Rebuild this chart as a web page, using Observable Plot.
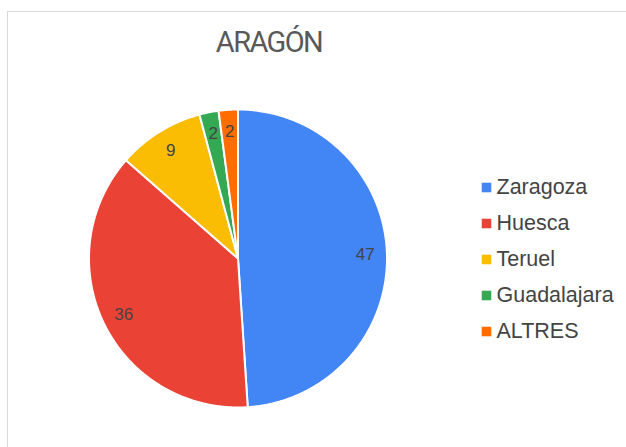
<!DOCTYPE html>
<html>
<head>
<meta charset="utf-8">
<script src="https://cdn.jsdelivr.net/npm/d3@7"></script>
<script src="https://cdn.jsdelivr.net/npm/@observablehq/plot@0.6"></script>
<style>
  html, body { margin: 0; padding: 0; background: #fff; overflow: hidden; }
  #wrap { position: relative; width: 626px; height: 447px; overflow: hidden; }
  #border { position: absolute; left: 7px; top: 11px; width: 700px; height: 500px; border: 1px solid #d9d9d9; box-sizing: border-box; }
  #title { position: absolute; left: 0; width: 538px; top: 24px; text-align: center; font-family: Roboto, "Liberation Sans", sans-serif; font-size: 29px; color: #595959; letter-spacing: -1.6px; line-height: 36px; }
  #pie, #legend { position: absolute; top: 0; }
  #pie { left: 0; }
  #legend { left: 470px; }
</style>
</head>
<body>
<div id="wrap">
  <div id="border"></div>
  <div id="title">ARAGÓN</div>
  <div id="pie"></div>
  <div id="legend"></div>
</div>
<script>
const categories = ["Zaragoza", "Huesca", "Teruel", "Guadalajara", "ALTRES"];
const values = [47, 36, 9, 2, 2];
const colors = ["#4285F4", "#EA4335", "#FBBC04", "#34A853", "#FF6D01"];

const data = categories.map((c, i) => ({cat: c, value: values[i]}));
const arcs = d3.pie().sort(null).value(d => d.value)(data);

// polygon outlines of slices (angles clockwise from 12 o'clock)
const outline = [];
for (const a of arcs) {
  const n = Math.max(4, Math.ceil((a.endAngle - a.startAngle) / 0.01));
  outline.push({cat: a.data.cat, x: 0, y: 0});
  for (let k = 0; k <= n; k++) {
    const t = a.startAngle + (a.endAngle - a.startAngle) * k / n;
    outline.push({cat: a.data.cat, x: Math.sin(t), y: Math.cos(t)});
  }
  outline.push({cat: a.data.cat, x: 0, y: 0});
}
const labels = arcs.map(a => {
  const m = (a.startAngle + a.endAngle) / 2;
  return {cat: a.data.cat, text: String(a.data.value), x: 0.855 * Math.sin(m), y: 0.855 * Math.cos(m)};
});

const cx = 237.5, cy = 258, R = 149;
const pie = Plot.plot({
  width: 470, height: 447,
  margin: 0,
  x: {domain: [-1, 1], range: [cx - R, cx + R], axis: null},
  y: {domain: [-1, 1], range: [cy + R, cy - R], axis: null},
  color: {domain: categories, range: colors},
  style: {background: "transparent", overflow: "visible"},
  marks: [
    Plot.line(outline, {x: "x", y: "y", z: "cat", fill: "cat", stroke: "white", strokeWidth: 2, strokeLinejoin: "round"}),
    Plot.text(labels, {x: "x", y: "y", text: "text", fill: "#444", fontSize: 17, fontFamily: "'Liberation Sans', Arial, sans-serif"})
  ]
});
document.getElementById("pie").appendChild(pie);

const legend = Plot.plot({
  width: 156, height: 447,
  margin: 0,
  y: {type: "point", domain: categories, range: [185.5, 332], padding: 0, axis: null},
  color: {domain: categories, range: colors},
  style: {background: "transparent", overflow: "visible"},
  marks: [
    Plot.dot(categories, {y: d => d, frameAnchor: "left", dx: 16, symbol: "square", r: 5.4, fill: d => d, stroke: null}),
    Plot.text(categories, {y: d => d, frameAnchor: "left", dx: 26, text: d => d, textAnchor: "start", fill: "#444", fontSize: 21.5, fontFamily: "'Liberation Sans', Arial, sans-serif"})
  ]
});
document.getElementById("legend").appendChild(legend);
</script>
</body>
</html>
